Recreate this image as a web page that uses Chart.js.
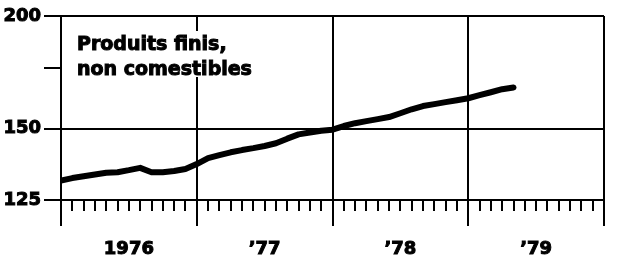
<!DOCTYPE html>
<html lang="fr">
  <head>
    <meta charset="UTF-8" />
    <title>Produits finis, non comestibles</title>
    <script src="https://cdn.jsdelivr.net/npm/chart.js"></script>
    <style>
      html, body { margin: 0; padding: 0; background: #fff; }
      #wrap { width: 619px; height: 261px; position: relative; }
    </style>
  </head>
  <body>
    <div id="wrap"><canvas id="chart"></canvas></div>
    <script>
      // months since Jan 1976
      const months = [0, 1, 2, 3, 4, 5, 6, 7, 8, 9, 10, 11, 12, 13, 14, 15, 16, 17, 18, 19, 20,
        21, 22, 23, 24, 25, 26, 27, 28, 29, 30, 31, 32, 33, 34, 35, 36, 37, 38, 39, 40];
      const values = [131.4, 132.2, 132.8, 133.4, 134.0, 134.2, 134.9, 135.7, 134.2, 134.2, 134.6,
        135.3, 137.0, 139.1, 140.2, 141.2, 142.0, 142.7, 143.5, 144.5, 146.2, 147.8, 148.5,
        149.2, 149.6, 151.0, 152.1, 152.9, 153.7, 154.5, 156.0, 157.6, 158.9, 159.7, 160.5,
        161.3, 162.1, 163.4, 164.6, 165.9, 166.6];
      const yearLabels = ["1976", "\u201977", "\u201978", "\u201979"];
      const yTicks = [125, 150, 175, 200];
      const titleLines = ["Produits finis,", "non comestibles"];

      Chart.defaults.font.family = "'DejaVu Sans', sans-serif";
      Chart.defaults.font.weight = "bold";
      Chart.defaults.color = "#000";

      const minorTicks = {
        id: "minorTicks",
        afterDraw(chart) {
          const ctx = chart.ctx;
          const x = chart.scales.x;
          const bottom = chart.chartArea.bottom;
          ctx.save();
          ctx.strokeStyle = "#000";
          ctx.lineWidth = 2;
          for (let m = 1; m < 48; m++) {
            if (m % 12 === 0) continue;
            const px = Math.round(x.getPixelForValue(m));
            ctx.beginPath();
            ctx.moveTo(px, bottom);
            ctx.lineTo(px, bottom + 11);
            ctx.stroke();
          }
          ctx.restore();
        }
      };

      const titleText = {
        id: "titleText",
        afterDraw(chart) {
          const ctx = chart.ctx;
          ctx.save();
          ctx.fillStyle = "#fff";
          ctx.fillRect(74, 31, 160, 46);
          ctx.fillStyle = "#000";
          ctx.strokeStyle = "#000";
          ctx.lineWidth = 1;
          ctx.font = "bold 19px 'DejaVu Sans'";
          ctx.textBaseline = "alphabetic";
          titleLines.forEach((t, i) => {
            ctx.fillText(t, 77, 50 + i * 25);
            ctx.strokeText(t, 77, 50 + i * 25);
          });
          ctx.restore();
        }
      };

      new Chart(document.getElementById("chart"), {
        type: "line",
        data: {
          datasets: [{
            data: months.map((m, i) => ({ x: m, y: values[i] })),
            borderColor: "#000",
            borderWidth: 6,
            borderCapStyle: "round",
            borderJoinStyle: "round",
            pointRadius: 0,
            tension: 0
          }]
        },
        options: {
          responsive: true,
          maintainAspectRatio: false,
          animation: false,
          layout: { padding: { top: 16, right: 15, left: 0, bottom: 0 } },
          plugins: { legend: { display: false }, tooltip: { enabled: false } },
          scales: {
            x: {
              type: "linear",
              min: 0,
              max: 48,
              afterBuildTicks: axis => {
                axis.ticks = [0, 6, 12, 18, 24, 30, 36, 42, 48].map(v => ({ value: v }));
              },
              afterFit: axis => { axis.height = 61; },
              ticks: {
                autoSkip: false,
                maxRotation: 0,
                padding: 13,
                textStrokeColor: "#000",
                textStrokeWidth: 1,
                font: { size: 18, weight: "bold" },
                callback: v => (v % 12 === 6 ? yearLabels[(v - 6) / 12] : "")
              },
              grid: {
                color: c => (c.tick && c.tick.value % 12 === 0 ? "#000" : "rgba(0,0,0,0)"),
                tickColor: c => (c.tick && c.tick.value % 12 === 0 ? "#000" : "rgba(0,0,0,0)"),
                lineWidth: 2,
                tickWidth: 2,
                tickLength: 26
              },
              border: { display: true, color: "#000", width: 2 }
            },
            y: {
              type: "logarithmic",
              min: 125,
              max: 200,
              afterBuildTicks: axis => {
                axis.ticks = yTicks.map(v => ({ value: v }));
              },
              afterFit: axis => { axis.width = 61; },
              ticks: {
                padding: 3,
                textStrokeColor: "#000",
                textStrokeWidth: 1,
                font: { size: 18, weight: "bold" },
                callback: v => (v === 175 ? "" : String(v))
              },
              grid: {
                color: c => (c.tick && c.tick.value === 175 ? "rgba(0,0,0,0)" : "#000"),
                tickColor: "#000",
                lineWidth: 2,
                tickWidth: 2,
                tickLength: 17
              },
              border: { display: true, color: "#000", width: 2 }
            }
          }
        },
        plugins: [minorTicks, titleText]
      });
    </script>
  </body>
</html>
